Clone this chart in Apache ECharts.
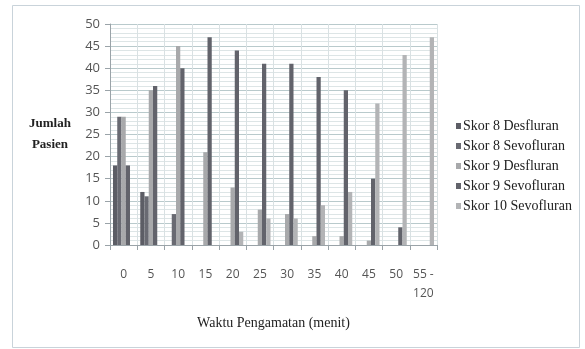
<!DOCTYPE html>
<html>
<head>
<meta charset="utf-8">
<script src="https://cdn.jsdelivr.net/npm/echarts@6/dist/echarts.min.js"></script>
<style>
  html, body { margin: 0; padding: 0; background: #ffffff; }
  #chart { width: 585px; height: 349px; }
</style>
</head>
<body>
<div id="chart"></div>
<script>
// Observation times (minutes)
var categories = ['0', '5', '10', '15', '20', '25', '30', '35', '40', '45', '50', '55 -\n120'];

// Number of patients per score and agent at each observation time
var skor8Desfluran   = [18, 12, 0, 0, 0, 0, 0, 0, 0, 0, 0, 0];
var skor8Sevofluran  = [29, 11, 7, 0, 0, 0, 0, 0, 0, 0, 0, 0];
var skor9Desfluran   = [29, 35, 45, 21, 13, 8, 7, 2, 2, 1, 0, 0];
var skor9Sevofluran  = [18, 36, 40, 47, 44, 41, 41, 38, 35, 15, 4, 0];
var skor10Sevofluran = [0, 0, 0, 0, 3, 6, 6, 9, 12, 32, 43, 47];

var yTicks = { min: 0, max: 50, interval: 5 };

var seriesDefs = [
  { name: 'Skor 8 Desfluran',   data: skor8Desfluran,   color: '#5c5d65' },
  { name: 'Skor 8 Sevofluran',  data: skor8Sevofluran,  color: '#696a72' },
  { name: 'Skor 9 Desfluran',   data: skor9Desfluran,   color: '#a8a9ab' },
  { name: 'Skor 9 Sevofluran',  data: skor9Sevofluran,  color: '#62636b' },
  { name: 'Skor 10 Sevofluran', data: skor10Sevofluran, color: '#b3b4b6' }
];

var serif = '"Liberation Serif", "DejaVu Serif", serif';
var sans = '"Open Sans", "Liberation Sans", sans-serif';

var chart = echarts.init(document.getElementById('chart'), null, { renderer: 'canvas' });

chart.setOption({
  animation: false,
  backgroundColor: '#ffffff',
  graphic: [
    {
      type: 'rect',
      shape: { x: 12.5, y: 5.5, width: 567, height: 342 },
      style: { fill: 'none', stroke: '#c9d3da', lineWidth: 1 },
      silent: true,
      z: -1
    },
    {
      type: 'text',
      left: 29,
      top: 113,
      style: {
        text: 'Jumlah\nPasien',
        font: 'bold 13px ' + serif,
        fill: '#222222',
        textAlign: 'center',
        lineHeight: 21
      }
    }
  ],
  legend: {
    orient: 'vertical',
    left: 451,
    top: 114,
    itemGap: 6,
    itemWidth: 5,
    itemHeight: 6,
    icon: 'rect',
    textStyle: { fontFamily: serif, fontSize: 14, color: '#222222', padding: [0, 0, 0, -3] },
    data: seriesDefs.map(function (s) { return s.name; })
  },
  grid: { left: 110, right: 148, top: 24, bottom: 104, containLabel: false },
  xAxis: {
    type: 'category',
    data: categories,
    name: 'Waktu Pengamatan (menit)',
    nameLocation: 'middle',
    nameGap: 71,
    nameTextStyle: { fontFamily: serif, fontSize: 14, color: '#222222' },
    axisLine: { lineStyle: { color: '#9aa3a8' } },
    axisTick: { show: true, length: 5, lineStyle: { color: '#9aa3a8' } },
    axisLabel: { fontFamily: sans, fontSize: 12, color: '#555555', margin: 20, lineHeight: 19, interval: 0 },
    splitLine: { show: true, lineStyle: { color: '#d9e1e3' } }
  },
  yAxis: {
    type: 'value',
    min: yTicks.min,
    max: yTicks.max,
    interval: yTicks.interval,
    axisLine: { show: true, lineStyle: { color: '#9aa3a8' } },
    axisTick: { show: true, length: 5, lineStyle: { color: '#9aa3a8' } },
    axisLabel: { fontFamily: sans, fontSize: 13, color: '#555555', margin: 10 },
    splitLine: { show: true, lineStyle: { color: '#b9cacc' } },
    minorTick: { show: false, splitNumber: 5 },
    minorSplitLine: { show: true, lineStyle: { color: '#dde5e6' } }
  },
  series: seriesDefs.map(function (s) {
    return {
      name: s.name,
      type: 'bar',
      data: s.data,
      barGap: '0%',
      barCategoryGap: '22%',
      itemStyle: { color: s.color }
    };
  })
});
</script>
</body>
</html>
